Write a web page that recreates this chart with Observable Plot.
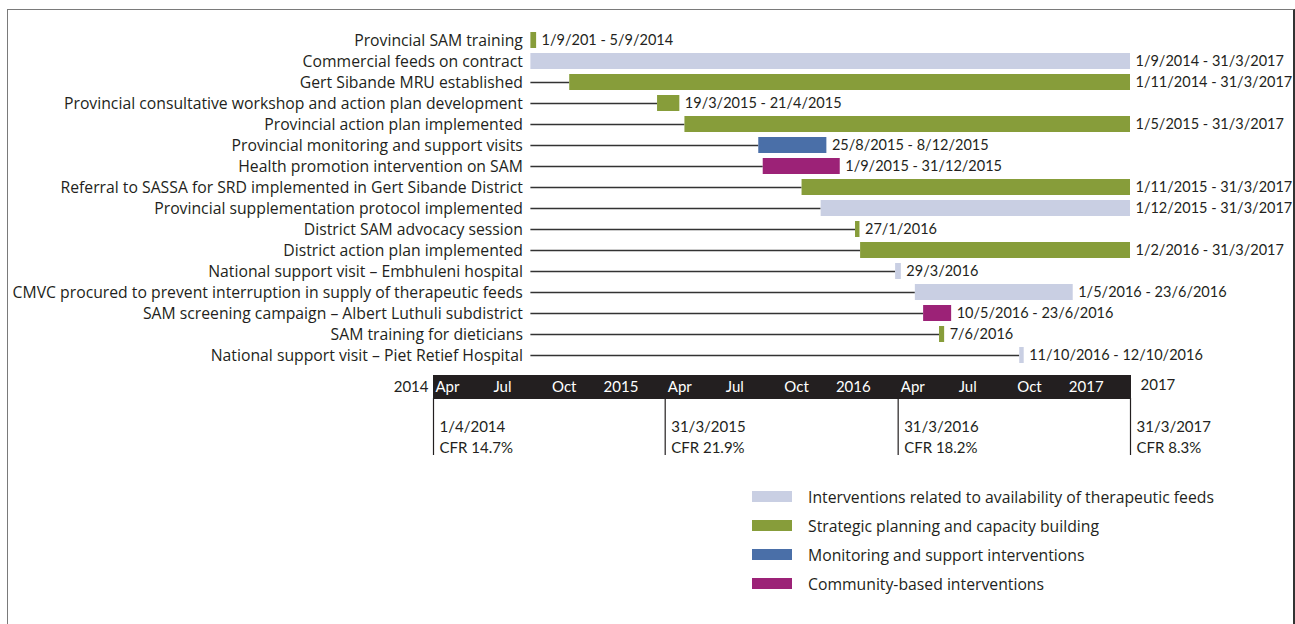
<!DOCTYPE html>
<html>
<head>
<meta charset="utf-8">
<script src="https://cdn.jsdelivr.net/npm/d3@7"></script>
<script src="https://cdn.jsdelivr.net/npm/@observablehq/plot@0.6"></script>
<style>
  html, body { margin: 0; padding: 0; background: #fff; }
  #wrap { position: relative; width: 1295px; height: 624px; overflow: hidden; font-family: "Open Sans", Lato, sans-serif; color: #231f20; }
  #frame { position: absolute; left: 7px; top: 9px; width: 1285px; height: 700px; border-left: 1.5px solid #7a7a7a; border-top: 1.5px solid #7a7a7a; border-right: 2px solid #333; }
  #gantt { position: absolute; left: 0; top: 0; }
  #timeline { position: absolute; left: 0; top: 370px; }
  #legend { position: absolute; left: 752px; top: 482px; }
  .lg-row { display: flex; align-items: center; height: 29px; }
  .lg-sw { width: 40px; height: 11px; margin-right: 16px; }
  .lg-tx { font-size: 15.75px; }
</style>
</head>
<body>
<div id="wrap">
  <div id="frame"></div>
  <div id="gantt"></div>
  <div id="timeline"></div>
  <div id="legend"></div>
</div>
<script>
// ---------- data ----------
const tasks = [
  "Provincial SAM training",
  "Commercial feeds on contract",
  "Gert Sibande MRU established",
  "Provincial consultative workshop and action plan development",
  "Provincial action plan implemented",
  "Provincial monitoring and support visits",
  "Health promotion intervention on SAM",
  "Referral to SASSA for SRD implemented in Gert Sibande District",
  "Provincial supplementation protocol implemented",
  "District SAM advocacy session",
  "District action plan implemented",
  "National support visit \u2013 Embhuleni hospital",
  "CMVC procured to prevent interruption in supply of therapeutic feeds",
  "SAM screening campaign \u2013 Albert Luthuli subdistrict",
  "SAM training for dieticians",
  "National support visit \u2013 Piet Retief Hospital"
];
const categories = [
  "Interventions related to availability of therapeutic feeds",
  "Strategic planning and capacity building",
  "Monitoring and support interventions",
  "Community-based interventions"
];
const categoryColors = ["#c9cfe3", "#879d3a", "#4a6fa8", "#9c2277"];
const taskCategory = [1, 0, 1, 1, 1, 2, 3, 1, 0, 1, 1, 0, 0, 3, 1, 0];
// bar extents as drawn in the picture
const starts = ["2014-09-01","2014-09-01","2014-11-01","2015-03-19","2015-05-01","2015-08-25","2015-09-01","2015-11-01","2015-12-01","2016-01-24","2016-02-01","2016-03-27","2016-04-27","2016-05-10","2016-06-04","2016-10-08"];
const ends   = ["2014-09-10","2017-03-31","2017-03-31","2015-04-23","2017-03-31","2015-12-10","2015-12-31","2017-03-31","2017-03-31","2016-01-31","2017-03-31","2016-04-05","2016-12-31","2016-06-23","2016-06-12","2016-10-15"];
const dateLabels = [
  "1/9/201 - 5/9/2014",
  "1/9/2014 - 31/3/2017",
  "1/11/2014 - 31/3/2017",
  "19/3/2015 - 21/4/2015",
  "1/5/2015 - 31/3/2017",
  "25/8/2015 - 8/12/2015",
  "1/9/2015 - 31/12/2015",
  "1/11/2015 - 31/3/2017",
  "1/12/2015 - 31/3/2017",
  "27/1/2016",
  "1/2/2016 - 31/3/2017",
  "29/3/2016",
  "1/5/2016 - 23/6/2016",
  "10/5/2016 - 23/6/2016",
  "7/6/2016",
  "11/10/2016 - 12/10/2016"
];
const lineStart = "2014-09-01";
const timelineStart = "2014-04-01";
const timelineEnd = "2017-03-31";
const monthTickDates = ["2014-04-01","2014-07-01","2014-10-01","2015-04-01","2015-07-01","2015-10-01","2016-04-01","2016-07-01","2016-10-01"];
const monthTickLabels = ["Apr","Jul","Oct","Apr","Jul","Oct","Apr","Jul","Oct"];
const yearTickDates = ["2015-01-01","2016-01-01","2017-01-01"];
const yearTickLabels = ["2015","2016","2017"];
const startYearLabel = "2014";
const endYearLabel = "2017";
const cfrDates = ["2014-04-01","2015-03-31","2016-03-31","2017-03-31"];
const cfrDateLabels = ["1/4/2014","31/3/2015","31/3/2016","31/3/2017"];
const cfrValues = [14.7, 21.9, 18.2, 8.3];

// ---------- build ----------
const parse = s => new Date(s + "T00:00:00Z");
const rows = tasks.map((t, i) => ({
  task: t, start: parse(starts[i]), end: parse(ends[i]),
  cat: categories[taskCategory[i]], label: dateLabels[i]
}));
const ls = parse(lineStart);
const xDomain = [parse(timelineStart), parse(timelineEnd)];
const labelFont = "'Open Sans', Lato, sans-serif";
const numFont = "Lato, 'Open Sans', sans-serif";
const ink = "#231f20";

const gantt = Plot.plot({
  width: 1295, height: 370,
  marginLeft: 433, marginRight: 165, marginTop: 0, marginBottom: 0,
  x: {type: "utc", domain: xDomain, axis: null},
  y: {domain: tasks, range: [26, 368], padding: 0.24, axis: null},
  color: {domain: categories, range: categoryColors},
  style: {fontFamily: numFont, overflow: "visible", background: "transparent"},
  marks: [
    Plot.ruleY(rows.filter(d => d.start > ls), {y: "task", x1: () => ls, x2: "start", stroke: "#333", strokeWidth: 1.3}),
    Plot.barX(rows, {y: "task", x1: "start", x2: "end", fill: "cat"}),
    Plot.text(rows, {y: "task", x: () => ls, text: "task", textAnchor: "end", dx: -8, fontSize: 15.75, fontFamily: labelFont, fill: ink}),
    Plot.text(rows, {y: "task", x: "end", text: "label", textAnchor: "start", dx: 5, fontSize: 14.5, fill: ink})
  ]
});
document.getElementById("gantt").appendChild(gantt);

const monthTicks = monthTickDates.map((d, i) => ({date: parse(d), label: monthTickLabels[i]}));
const yearTicks = yearTickDates.map((d, i) => ({date: parse(d), label: yearTickLabels[i]}));
const cfr = cfrDates.map((d, i) => ({date: parse(d), text: cfrDateLabels[i] + "\nCFR " + cfrValues[i] + "%"}));

const timeline = Plot.plot({
  width: 1295, height: 100,
  marginLeft: 433, marginRight: 165, marginTop: 5, marginBottom: 72,
  x: {type: "utc", domain: xDomain, axis: null},
  style: {fontFamily: numFont, overflow: "visible", background: "transparent"},
  marks: [
    Plot.frame({fill: ink, stroke: ink}),
    Plot.text(monthTicks, {x: "date", text: "label", frameAnchor: "middle", textAnchor: "start", dx: 2, fill: "white", fontSize: 15}),
    Plot.text(yearTicks, {x: "date", text: "label", frameAnchor: "middle", textAnchor: "start", dx: -5, fill: "white", fontSize: 15}),
    Plot.text([xDomain[0]], {x: d => d, text: () => startYearLabel, frameAnchor: "middle", textAnchor: "end", dx: -5, fill: ink, fontSize: 15}),
    Plot.text([xDomain[1]], {x: d => d, text: () => endYearLabel, frameAnchor: "middle", textAnchor: "start", dx: 10, dy: -2, fill: ink, fontSize: 15}),
    Plot.ruleX(cfr, {x: "date", insetTop: 23, insetBottom: -57, stroke: ink, strokeWidth: 1.2}),
    Plot.text(cfr, {x: "date", text: "text", frameAnchor: "bottom", lineAnchor: "top", dy: 19, dx: 6, textAnchor: "start", lineHeight: 1.4, fill: ink, fontSize: 15})
  ]
});
document.getElementById("timeline").appendChild(timeline);

const legend = document.getElementById("legend");
categories.forEach((c, i) => {
  const row = document.createElement("div");
  row.className = "lg-row";
  const sw = document.createElement("div");
  sw.className = "lg-sw";
  sw.style.background = categoryColors[i];
  const tx = document.createElement("span");
  tx.className = "lg-tx";
  tx.textContent = c;
  row.appendChild(sw); row.appendChild(tx);
  legend.appendChild(row);
});
</script>
</body>
</html>
